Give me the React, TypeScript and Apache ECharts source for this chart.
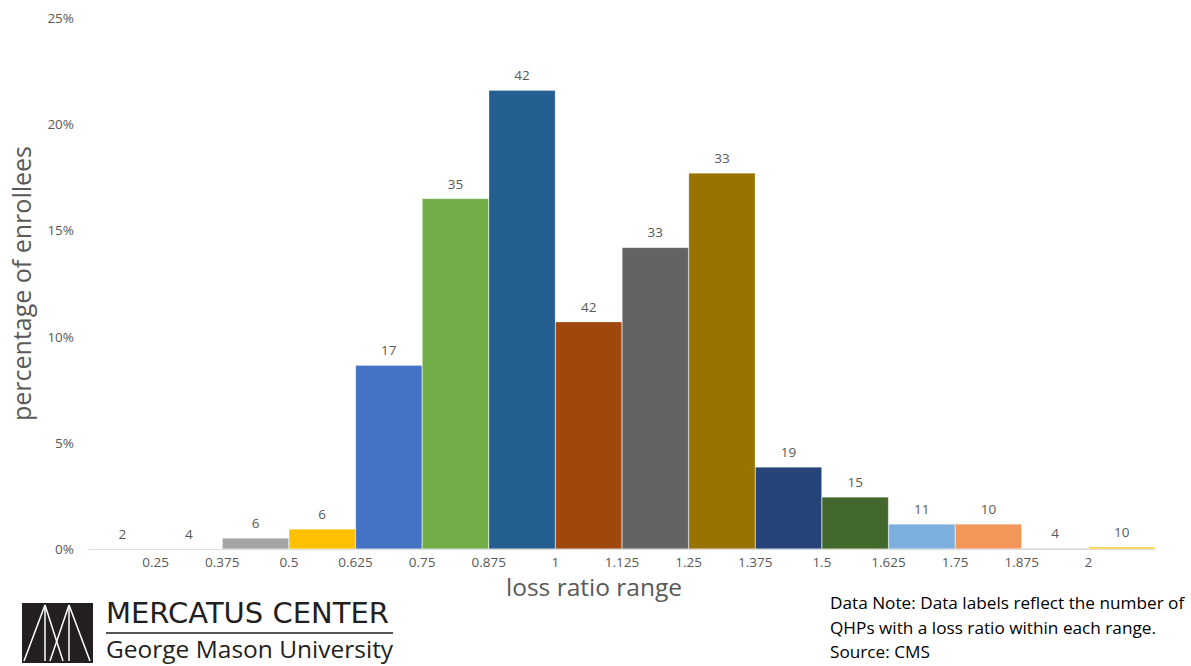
import React, { useEffect, useRef } from "react";
import * as echarts from "echarts";

const bins = [
  "0.125-0.25", "0.25-0.375", "0.375-0.5", "0.5-0.625", "0.625-0.75", "0.75-0.875",
  "0.875-1", "1-1.125", "1.125-1.25", "1.25-1.375", "1.375-1.5", "1.5-1.625",
  "1.625-1.75", "1.75-1.875", "1.875-2", "2-2.125",
];
const percentEnrollees = [0.02, 0.02, 0.52, 0.94, 8.65, 16.5, 21.6, 10.7, 14.2, 17.7, 3.86, 2.45, 1.18, 1.18, 0.05, 0.1];
const planCounts = [2, 4, 6, 6, 17, 35, 42, 42, 33, 33, 19, 15, 11, 10, 4, 10];
const barColors = [
  "#4472C4", "#ED7D31", "#A5A5A5", "#FFC000", "#4472C4", "#70AD47", "#255E91", "#9E480E",
  "#636363", "#997300", "#264478", "#43682B", "#7CAFDD", "#F1975A", "#B7B7B7", "#FFC000",
];
const tickLabels = ["0.25", "0.375", "0.5", "0.625", "0.75", "0.875", "1", "1.125", "1.25", "1.375", "1.5", "1.625", "1.75", "1.875", "2"];
const noteLines = [
  "Data Note: Data labels reflect the number of",
  "QHPs with a loss ratio within each range.",
  "Source: CMS",
];

export default function App() {
  const ref = useRef<HTMLDivElement>(null);
  useEffect(() => {
    if (!ref.current) return;
    const chart = echarts.init(ref.current, null, { renderer: "svg" });
    const font = "'Open Sans', sans-serif";
    const option: any = {
      animation: false,
      backgroundColor: "#ffffff",
      grid: { left: 84, right: 36, top: 18, bottom: 117, containLabel: false },
      xAxis: [
        {
          type: "category",
          data: bins,
          axisLine: { show: true, lineStyle: { color: "#d9d9d9", width: 1 } },
          axisTick: { show: false },
          axisLabel: { show: false },
          splitLine: { show: false },
        },
        {
          type: "value",
          position: "bottom",
          min: 0.125,
          max: 2.125,
          interval: 0.125,
          axisLine: { show: false },
          axisTick: { show: false },
          splitLine: { show: false },
          axisLabel: {
            margin: 6,
            color: "#595959",
            fontSize: 13.5,
            fontFamily: font,
            formatter: (v: number) => {
              const i = Math.round((v - 0.125) / 0.125) - 1;
              return i >= 0 && i < tickLabels.length ? tickLabels[i] : "";
            },
          },
        },
      ],
      yAxis: {
        type: "value",
        min: 0,
        max: 25,
        interval: 5,
        axisLine: { show: false },
        axisTick: { show: false },
        splitLine: { show: false },
        axisLabel: { formatter: "{value}%", color: "#595959", fontSize: 13.5, fontFamily: font, margin: 15 },
        name: "percentage of enrollees",
        nameLocation: "middle",
        nameGap: 56,
        nameRotate: 90,
        nameTextStyle: { color: "#595959", fontSize: 25, fontFamily: font },
      },
      series: [
        {
          type: "bar",
          xAxisIndex: 0,
          barCategoryGap: "0%",
          data: percentEnrollees.map((v, i) => ({
            value: v,
            itemStyle: { color: barColors[i], borderColor: "rgba(255,255,255,0.5)", borderWidth: 0.5 },
          })),
          label: {
            show: true,
            position: "top",
            distance: 8,
            color: "#595959",
            fontSize: 13.5,
            fontFamily: font,
            formatter: (p: any) => String(planCounts[p.dataIndex]),
          },
        },
      ],
      graphic: [
        {
          type: "text",
          x: 594,
          y: 586,
          style: {
            text: "loss ratio range",
            fill: "#595959",
            font: "24.5px 'Open Sans', sans-serif",
            textAlign: "center",
            textVerticalAlign: "middle",
          },
        },
        { type: "rect", shape: { x: 22, y: 603, width: 71, height: 60 }, style: { fill: "#231f20" } },
        { type: "line", shape: { x1: 45, y1: 605, x2: 45, y2: 661 }, style: { stroke: "#fff", lineWidth: 1.5 } },
        { type: "line", shape: { x1: 69, y1: 605, x2: 69, y2: 661 }, style: { stroke: "#fff", lineWidth: 1.5 } },
        { type: "line", shape: { x1: 24, y1: 661, x2: 45, y2: 605 }, style: { stroke: "#fff", lineWidth: 1.5 } },
        { type: "line", shape: { x1: 45, y1: 605, x2: 63, y2: 661 }, style: { stroke: "#fff", lineWidth: 1.5 } },
        { type: "line", shape: { x1: 50, y1: 661, x2: 69, y2: 605 }, style: { stroke: "#fff", lineWidth: 1.5 } },
        { type: "line", shape: { x1: 69, y1: 605, x2: 90, y2: 661 }, style: { stroke: "#fff", lineWidth: 1.5 } },
        {
          type: "text",
          x: 106,
          y: 598,
          style: { text: "MERCATUS CENTER", fill: "#231f20", font: "29px 'DejaVu Sans', sans-serif" },
        },
        { type: "line", shape: { x1: 106, y1: 633, x2: 393, y2: 633 }, style: { stroke: "#555", lineWidth: 2 } },
        {
          type: "text",
          x: 106,
          y: 636,
          style: { text: "George Mason University", fill: "#231f20", font: "24.5px 'Open Sans', sans-serif" },
        },
        ...noteLines.map((t, i) => ({
          type: "text",
          x: 830,
          y: 594 + i * 24.5,
          style: { text: t, fill: "#000", font: "17.2px 'Open Sans', sans-serif" },
        })),
      ],
    };
    chart.setOption(option);
    return () => chart.dispose();
  }, []);
  return <div ref={ref} style={{ position: "fixed", left: 0, top: 0, width: 1191, height: 666 }} />;
}
